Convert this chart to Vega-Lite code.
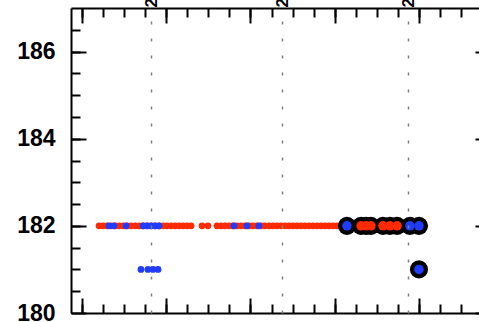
{
  "$schema": "https://vega.github.io/schema/vega-lite/v6.json",
  "width": 408,
  "height": 305,
  "autosize": {"type": "none"},
  "padding": {"left": 71, "top": 8, "right": 0, "bottom": 9},
  "background": "white",
  "config": {
    "view": {"stroke": null},
    "axis": {"grid": false, "title": null, "domainColor": "#000", "tickColor": "#000", "labelColor": "#000", "domainWidth": 2}
  },
  "data": {
    "values": [
      {"t": 0.81, "v": 182, "c": "red", "k": "s"},
      {"t": 1.00, "v": 182, "c": "red", "k": "s"},
      {"t": 1.19, "v": 182, "c": "red", "k": "s"},
      {"t": 1.38, "v": 182, "c": "red", "k": "s"},
      {"t": 1.57, "v": 182, "c": "red", "k": "s"},
      {"t": 1.76, "v": 182, "c": "red", "k": "s"},
      {"t": 1.95, "v": 182, "c": "red", "k": "s"},
      {"t": 2.14, "v": 182, "c": "red", "k": "s"},
      {"t": 2.33, "v": 182, "c": "red", "k": "s"},
      {"t": 2.52, "v": 182, "c": "red", "k": "s"},
      {"t": 2.71, "v": 182, "c": "red", "k": "s"},
      {"t": 2.90, "v": 182, "c": "red", "k": "s"},
      {"t": 3.09, "v": 182, "c": "red", "k": "s"},
      {"t": 3.28, "v": 182, "c": "red", "k": "s"},
      {"t": 3.47, "v": 182, "c": "red", "k": "s"},
      {"t": 3.66, "v": 182, "c": "red", "k": "s"},
      {"t": 3.85, "v": 182, "c": "red", "k": "s"},
      {"t": 4.04, "v": 182, "c": "red", "k": "s"},
      {"t": 4.23, "v": 182, "c": "red", "k": "s"},
      {"t": 4.42, "v": 182, "c": "red", "k": "s"},
      {"t": 4.61, "v": 182, "c": "red", "k": "s"},
      {"t": 4.80, "v": 182, "c": "red", "k": "s"},
      {"t": 4.99, "v": 182, "c": "red", "k": "s"},
      {"t": 5.18, "v": 182, "c": "red", "k": "s"},
      {"t": 5.70, "v": 182, "c": "red", "k": "s"},
      {"t": 5.98, "v": 182, "c": "red", "k": "s"},
      {"t": 6.41, "v": 182, "c": "red", "k": "s"},
      {"t": 6.60, "v": 182, "c": "red", "k": "s"},
      {"t": 6.79, "v": 182, "c": "red", "k": "s"},
      {"t": 6.98, "v": 182, "c": "red", "k": "s"},
      {"t": 7.17, "v": 182, "c": "red", "k": "s"},
      {"t": 7.36, "v": 182, "c": "red", "k": "s"},
      {"t": 7.55, "v": 182, "c": "red", "k": "s"},
      {"t": 7.74, "v": 182, "c": "red", "k": "s"},
      {"t": 7.93, "v": 182, "c": "red", "k": "s"},
      {"t": 8.12, "v": 182, "c": "red", "k": "s"},
      {"t": 8.31, "v": 182, "c": "red", "k": "s"},
      {"t": 8.50, "v": 182, "c": "red", "k": "s"},
      {"t": 8.69, "v": 182, "c": "red", "k": "s"},
      {"t": 8.88, "v": 182, "c": "red", "k": "s"},
      {"t": 9.07, "v": 182, "c": "red", "k": "s"},
      {"t": 9.26, "v": 182, "c": "red", "k": "s"},
      {"t": 9.45, "v": 182, "c": "red", "k": "s"},
      {"t": 9.64, "v": 182, "c": "red", "k": "s"},
      {"t": 9.83, "v": 182, "c": "red", "k": "s"},
      {"t": 10.02, "v": 182, "c": "red", "k": "s"},
      {"t": 10.21, "v": 182, "c": "red", "k": "s"},
      {"t": 10.40, "v": 182, "c": "red", "k": "s"},
      {"t": 10.59, "v": 182, "c": "red", "k": "s"},
      {"t": 10.78, "v": 182, "c": "red", "k": "s"},
      {"t": 10.97, "v": 182, "c": "red", "k": "s"},
      {"t": 11.16, "v": 182, "c": "red", "k": "s"},
      {"t": 11.35, "v": 182, "c": "red", "k": "s"},
      {"t": 11.54, "v": 182, "c": "red", "k": "s"},
      {"t": 11.73, "v": 182, "c": "red", "k": "s"},
      {"t": 11.92, "v": 182, "c": "red", "k": "s"},
      {"t": 12.10, "v": 182, "c": "red", "k": "s"},
      {"t": 1.28, "v": 182, "c": "blue", "k": "s"},
      {"t": 1.52, "v": 182, "c": "blue", "k": "s"},
      {"t": 2.09, "v": 182, "c": "blue", "k": "s"},
      {"t": 2.90, "v": 182, "c": "blue", "k": "s"},
      {"t": 3.09, "v": 182, "c": "blue", "k": "s"},
      {"t": 3.28, "v": 182, "c": "blue", "k": "s"},
      {"t": 3.47, "v": 182, "c": "blue", "k": "s"},
      {"t": 3.66, "v": 182, "c": "blue", "k": "s"},
      {"t": 7.22, "v": 182, "c": "blue", "k": "s"},
      {"t": 7.83, "v": 182, "c": "blue", "k": "s"},
      {"t": 8.40, "v": 182, "c": "blue", "k": "s"},
      {"t": 2.80, "v": 181, "c": "blue", "k": "s"},
      {"t": 3.13, "v": 181, "c": "blue", "k": "s"},
      {"t": 3.37, "v": 181, "c": "blue", "k": "s"},
      {"t": 3.61, "v": 181, "c": "blue", "k": "s"},
      {"t": 12.58, "v": 182, "c": "blue", "k": "b"},
      {"t": 13.25, "v": 182, "c": "red", "k": "b"},
      {"t": 13.49, "v": 182, "c": "red", "k": "b"},
      {"t": 13.72, "v": 182, "c": "red", "k": "b"},
      {"t": 14.29, "v": 182, "c": "red", "k": "b"},
      {"t": 14.62, "v": 182, "c": "red", "k": "b"},
      {"t": 14.96, "v": 182, "c": "red", "k": "b"},
      {"t": 15.57, "v": 182, "c": "blue", "k": "b"},
      {"t": 16.00, "v": 182, "c": "blue", "k": "b"},
      {"t": 16.00, "v": 181, "c": "blue", "k": "b"}
    ]
  },
  "layer": [
    {
      "transform": [{"filter": "datum.k === 's' && datum.c === 'red'"}],
      "mark": {"type": "circle", "size": 46, "opacity": 1, "color": "#ff2a00"},
      "encoding": {
        "x": {"field": "t", "type": "quantitative", "scale": {"domain": [-0.522, 18.85], "nice": false, "zero": false},
              "axis": {"orient": "bottom", "values": [0, 4, 8, 12, 16], "labels": false, "tickSize": -15, "tickWidth": 2, "domain": true}},
        "y": {"field": "v", "type": "quantitative", "scale": {"domain": [180, 187], "nice": false, "zero": false},
              "axis": {"orient": "left", "values": [180, 182, 184, 186], "labels": false, "tickSize": -15, "tickWidth": 2, "domain": true}}
      }
    },
    {
      "transform": [{"filter": "datum.k === 's' && datum.c === 'blue'"}],
      "mark": {"type": "circle", "size": 46, "opacity": 1, "color": "#1f3cff"},
      "encoding": {
        "x": {"field": "t", "type": "quantitative", "scale": {"domain": [-0.522, 18.85], "nice": false, "zero": false},
              "axis": {"orient": "top", "values": [3.28, 9.5, 15.48], "labelExpr": "datum.value < 5 ? '2020' : datum.value < 12 ? '2021' : '2022'", "labelAngle": 270, "labelAlign": "left", "labelBaseline": "middle", "labelPadding": 1, "labelFont": "Liberation Sans", "labelFontSize": 17, "labelFontWeight": "bold", "ticks": false, "domain": false, "grid": true, "gridColor": "#808080", "gridWidth": 1.5, "gridDash": [3, 14], "zindex": 1}},
        "y": {"field": "v", "type": "quantitative", "scale": {"domain": [180, 187], "nice": false, "zero": false},
              "axis": {"orient": "left", "values": [180, 182, 184, 186], "ticks": false, "domain": false, "labelPadding": 16, "labelFont": "Liberation Sans", "labelFontSize": 23, "labelFontWeight": "bold", "labelFlush": false, "labelOverlap": false}}
      }
    },
    {
      "transform": [{"filter": "datum.k === 'b'"}],
      "mark": {"type": "circle", "size": 330, "opacity": 1, "color": "#000000"},
      "encoding": {
        "x": {"field": "t", "type": "quantitative", "scale": {"domain": [-0.522, 18.85], "nice": false, "zero": false},
              "axis": {"orient": "bottom", "values": [0,1,2,3,4,5,6,7,8,9,10,11,12,13,14,15,16,17,18], "labels": false, "tickSize": -9, "tickWidth": 2, "domain": false}},
        "y": {"field": "v", "type": "quantitative", "scale": {"domain": [180, 187], "nice": false, "zero": false},
              "axis": {"orient": "left", "values": [180.5,181,181.5,182,182.5,183,183.5,184,184.5,185,185.5,186,186.5], "labels": false, "tickSize": -9, "tickWidth": 2, "domain": false}}
      }
    },
    {
      "transform": [{"filter": "datum.k === 'b' && datum.c === 'red'"}],
      "mark": {"type": "circle", "size": 90, "opacity": 1, "color": "#ff2a00"},
      "encoding": {
        "x": {"field": "t", "type": "quantitative", "scale": {"domain": [-0.522, 18.85], "nice": false, "zero": false},
              "axis": {"orient": "top", "values": [0, 4, 8, 12, 16], "labels": false, "tickSize": -15, "tickWidth": 2, "domain": true}},
        "y": {"field": "v", "type": "quantitative", "scale": {"domain": [180, 187], "nice": false, "zero": false},
              "axis": {"orient": "right", "offset": 11, "values": [180, 182, 184, 186], "labels": false, "tickSize": -15, "tickWidth": 2, "domain": true}}
      }
    },
    {
      "transform": [{"filter": "datum.k === 'b' && datum.c === 'blue'"}],
      "mark": {"type": "circle", "size": 90, "opacity": 1, "color": "#1f3cff"},
      "encoding": {
        "x": {"field": "t", "type": "quantitative", "scale": {"domain": [-0.522, 18.85], "nice": false, "zero": false},
              "axis": {"orient": "top", "values": [0,1,2,3,4,5,6,7,8,9,10,11,12,13,14,15,16,17,18], "labels": false, "tickSize": -9, "tickWidth": 2, "domain": false}},
        "y": {"field": "v", "type": "quantitative", "scale": {"domain": [180, 187], "nice": false, "zero": false},
              "axis": {"orient": "right", "offset": 11, "values": [180.5,181,181.5,182,182.5,183,183.5,184,184.5,185,185.5,186,186.5], "labels": false, "tickSize": -9, "tickWidth": 2, "domain": false}}
      }
    }
  ],
  "resolve": {"axis": {"x": "independent", "y": "independent"}}
}
